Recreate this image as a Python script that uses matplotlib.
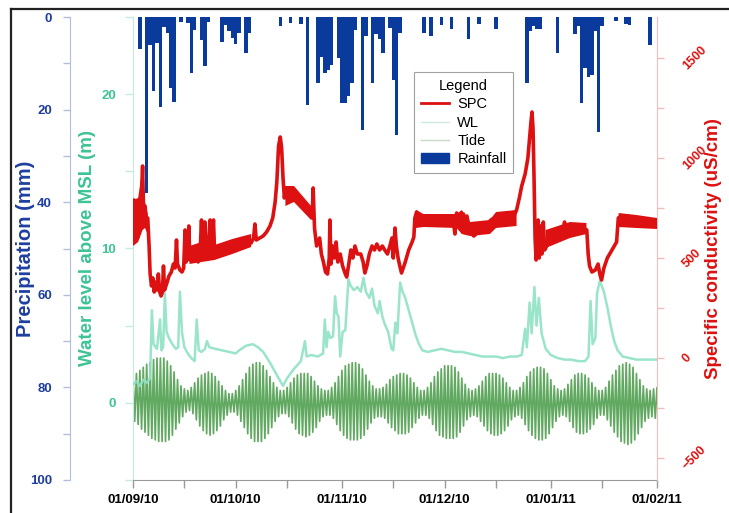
import numpy as np
import matplotlib
matplotlib.use('Agg')
import matplotlib.pyplot as plt
from matplotlib.lines import Line2D
from matplotlib.patches import Patch

# ---------------- data (day 0 = 01/09/2010) ----------------
tick_days = [0, 30, 61, 91, 122, 153]
tick_labels = ["01/09/10", "01/10/10", "01/11/10", "01/12/10", "01/01/11", "01/02/11"]
minor_days = [15, 45, 76, 106, 137]

rain_mm = [0, 0, 7.0, 0, 38, 6.0, 15.9, 5.7, 19.4, 2.1, 3.5, 15.3, 18.3, 0, 1.0, 0, 1.4, 12.2, 2.8, 0,
           5.0, 10.6, 1.0, 0, 0, 0, 5.3, 1.8, 3.0, 4.5, 5.8, 3.5, 0, 7.8, 3.5, 0, 0, 0, 0, 0,
           0, 0, 0, 1.9, 0, 0, 1.2, 0, 0, 1.5, 0, 19, 0, 0, 14.3, 8.6, 12.1, 11.4, 10.4, 0,
           8.9, 18.6, 18.6, 17, 14.3, 2.8, 0, 24.4, 4.1, 0, 14.3, 3.7, 4.8, 7.7, 0, 2.3, 13.6, 25.5, 3.4, 0,
           0, 0, 0, 0, 0, 3.4, 0, 4.1, 0, 0, 1.8, 0, 0, 2.5, 0, 0, 0, 0, 4.8, 0,
           0, 1.5, 0, 0, 0, 0, 2.5, 0, 0, 0, 0, 0, 0, 0, 0, 14.3, 3.0, 2.0, 2.5, 2.5,
           0, 0, 0, 0, 7.7, 0, 0, 0, 0, 3.7, 2.0, 18.6, 11, 12.9, 12.6, 3, 24.8, 2.0, 0, 0,
           0, 0.8, 0, 0, 1.5, 1.8, 0, 0, 0, 0, 0, 6.0, 0, 0]

spc_day = [0.0, 0.3, 0.6, 1.0, 1.3, 1.7, 2.1, 2.5, 2.8, 3.1, 3.5, 3.9, 4.3, 4.7, 5.0, 5.4, 5.8, 6.2, 6.6, 7.0,
           7.4, 7.8, 8.2, 8.6, 8.9, 9.2, 9.8, 10.5, 11.2, 11.8, 12.3, 12.7, 13.0, 13.7, 14.3, 14.8, 15.2, 15.5, 16.0, 16.3,
           16.6, 17.2, 17.8, 18.4, 19.0, 19.6, 20.0, 20.3, 20.7, 21.0, 21.3, 21.9, 22.5, 22.8, 23.5, 23.8, 24.5, 25.5, 26.5, 27.5,
           28.5, 29.5, 30.5, 31.5, 32.5, 33.5, 34.5, 35.2, 35.6, 36.0, 37.0, 38.0, 39.0, 40.0, 40.8, 41.5, 42.0, 42.5, 43.0, 43.4,
           43.8, 44.2, 44.6, 45.5, 46.5, 47.2, 48.0, 49.0, 50.0, 51.0, 51.7, 52.3, 52.6, 53.0, 53.6, 54.5, 55.0, 55.6, 56.2, 56.8,
           57.3, 57.5, 57.8, 58.3, 58.8, 59.3, 59.8, 60.5, 61.2, 62.0, 62.4, 63.0, 63.6, 64.2, 64.8, 65.5, 66.5, 67.2, 67.7, 68.3,
           69.0, 69.8, 70.5, 71.2, 72.0, 72.8, 73.5, 74.3, 75.0, 75.6, 76.0, 76.5, 76.9, 77.4, 77.9, 78.4, 79.5, 80.5, 81.5, 82.0,
           82.3, 82.8, 83.5, 84.5, 85.5, 86.5, 87.5, 88.5, 89.5, 90.5, 91.5, 92.5, 93.5, 94.0, 94.5, 95.5, 96.5, 97.0, 97.5, 98.4,
           99.5, 100.5, 101.5, 102.5, 103.5, 104.5, 105.5, 106.5, 107.5, 108.5, 109.5, 110.5, 111.5, 112.0, 112.8, 113.5, 114.5, 115.3, 115.8, 116.2,
           116.5, 116.8, 117.1, 117.4, 117.7, 118.0, 118.3, 118.6, 119.0, 119.4, 119.8, 120.2, 120.8, 121.5, 122.5, 123.5, 124.5, 125.5, 126.0, 126.5,
           127.5, 128.5, 129.5, 130.5, 131.5, 132.5, 132.9, 133.3, 134.0, 135.0, 135.8, 136.3, 136.8, 137.5, 138.5, 139.5, 140.5, 141.2, 141.7, 142.5,
           143.5, 144.5, 145.5, 146.5, 147.5, 148.5, 149.5, 150.5, 151.5, 152.5, 153.0]
spc_val = [620, 790, 640, 770, 600, 760, 650, 830, 960, 720, 760, 690, 700, 560, 420, 360, 400, 330, 380, 340,
           420, 330, 310, 330, 460, 340, 370, 410, 430, 470, 450, 590, 470, 440, 430, 450, 640, 480, 520, 660,
           490, 540, 500, 560, 480, 530, 690, 500, 550, 680, 510, 540, 690, 530, 690, 540, 520, 540, 535, 550,
           555, 560, 570, 575, 580, 585, 575, 600, 670, 590, 600, 610, 630, 660, 700, 780, 880, 1060, 1105, 1050,
           900, 800, 850, 800, 820, 840, 800, 790, 770, 750, 730, 700, 850, 650, 560, 600, 520, 480, 430, 420,
           500, 690, 470, 560, 500, 580, 480, 520, 460, 420, 405, 470, 540, 500, 560, 520, 520, 480, 425, 460,
           520, 560, 540, 570, 540, 560, 540, 520, 560, 600, 500, 650, 560, 500, 460, 425, 480, 540, 580, 605,
           700, 730, 720, 700, 690, 685, 680, 690, 680, 685, 690, 680, 690, 620, 725, 700, 720, 640, 710, 630,
           610, 625, 645, 660, 670, 690, 700, 705, 710, 700, 710, 690, 720, 740, 800, 860, 920, 1000, 1100, 1180,
           1230, 1150, 900, 600, 490, 560, 690, 500, 660, 520, 680, 540, 560, 590, 580, 600, 610, 630, 680, 620,
           640, 650, 640, 655, 650, 640, 520, 460, 430, 440, 470, 420, 390, 450, 500, 530, 560, 580, 700, 710,
           690, 685, 680, 675, 675, 670, 670, 675, 670, 665, 665]

# SPC noise band (short-period fluctuation envelope); NaN separates segments
spc_band_day = [0.0, 1.5, 2.8, 3.5, 4.3, np.nan,
                16.5, 20.0, 23.8, 29.0, 34.5, np.nan,
                44.5, 47.0, 52.0, np.nan,
                82.6, 84.8, 94.5, 96.0, 98.4, 104.2, 106.0, 112.0, np.nan,
                120.5, 127.6, 132.4, np.nan,
                141.8, 147.0, 153.0]
spc_band_lo = [560, 580, 640, 650, 620, np.nan,
               470, 480, 490, 520, 555, np.nan,
               760, 780, 690, np.nan,
               650, 655, 650, 620, 610, 620, 650, 660, np.nan,
               550, 600, 620, np.nan,
               655, 650, 645]
spc_band_hi = [790, 800, 950, 780, 720, np.nan,
               560, 580, 565, 595, 620, np.nan,
               860, 860, 760, np.nan,
               740, 720, 720, 740, 680, 690, 730, 740, np.nan,
               640, 680, 675, np.nan,
               725, 715, 700]

wl_day = [0, 1, 2, 3, 4, 5, 5.5, 6, 7, 7.9, 8.3, 8.8, 9.3, 9.8, 10.5, 11.5, 12.5, 13.2, 13.7, 14.3,
          15, 16, 17, 18, 18.6, 19.2, 20, 21, 21.6, 22.3, 24, 26, 28, 30, 31, 33, 35, 36.5, 38, 40,
          42, 43.8, 45, 47, 49, 50.2, 50.7, 52, 54, 55.5, 56, 56.5, 57, 57.6, 58.4, 59, 59.5, 60, 60.5, 61.2,
          62, 62.9, 63.5, 64.5, 65.5, 66.5, 67.3, 68, 69, 69.8, 70.5, 71.5, 72, 72.8, 73.5, 74.5, 75.5, 76, 76.6, 77.2,
          78, 78.7, 79.5, 80.5, 81.5, 82.5, 83.5, 84.5, 86, 88, 90, 92, 94, 96, 98, 100, 102, 104, 106, 108,
          110, 112, 113.5, 114.5, 115, 115.8, 116.4, 117.2, 117.8, 118.5, 119.3, 120.5, 122, 124, 126, 128, 130, 132, 133, 133.6,
          134.2, 135, 135.5, 136.3, 137.5, 138.5, 139.5, 140.5, 141.5, 143, 145, 147, 149, 151, 153]
wl_val = [1.2, 1.4, 1.1, 1.5, 1.3, 1.6, 6.0, 3.8, 3.5, 5.4, 3.4, 3.6, 7.1, 4.6, 4.2, 3.8, 3.5, 3.6, 7.2, 4.6,
          3.6, 3.2, 2.9, 2.7, 5.4, 3.4, 3.3, 3.5, 4.0, 3.6, 3.5, 3.4, 3.3, 3.2, 3.4, 3.7, 3.8, 3.6, 3.3, 2.6,
          1.8, 1.1, 1.6, 2.2, 2.7, 4.0, 3.0, 3.1, 3.0, 3.2, 5.4, 3.6, 4.6, 4.2, 4.3, 6.9, 5.8, 5.6, 3.0, 4.6,
          4.7, 8.0, 7.6, 7.3, 7.5, 7.2, 8.1, 7.2, 6.8, 7.4, 6.3, 5.8, 6.6, 5.6, 5.1, 4.6, 3.5, 3.4, 5.2, 4.5,
          7.8, 7.2, 6.8, 6.0, 5.2, 4.4, 3.8, 3.4, 3.3, 3.4, 3.5, 3.4, 3.3, 3.3, 3.2, 3.1, 3.0, 3.0, 3.0, 2.9,
          3.0, 3.0, 3.1, 4.8, 3.6, 6.5, 4.5, 7.5, 5.0, 6.8, 4.5, 3.5, 3.1, 2.9, 2.8, 2.8, 2.7, 2.7, 3.0, 6.6,
          3.8, 4.2, 7.1, 7.9, 7.2, 6.2, 5.0, 4.0, 3.4, 3.0, 2.9, 2.8, 2.8, 2.8, 2.8]

tide_hi = [1.7, 1.9, 2.1, 2.3, 2.5, 2.6, 2.8, 2.9, 2.9, 2.9, 2.7, 2.4, 2.0, 1.5, 1.1, 0.9, 0.8, 1.0, 1.3, 1.6,
           1.8, 1.9, 2.0, 1.9, 1.7, 1.4, 1.1, 0.8, 0.6, 0.6, 0.8, 1.1, 1.5, 1.9, 2.3, 2.5, 2.6, 2.6, 2.4, 2.1,
           1.7, 1.3, 1.0, 0.8, 0.8, 1.0, 1.3, 1.6, 1.8, 1.9, 1.9, 1.9, 1.7, 1.4, 1.1, 0.9, 0.8, 0.8, 1.0, 1.3,
           1.7, 2.1, 2.4, 2.5, 2.6, 2.6, 2.5, 2.2, 1.8, 1.4, 1.1, 0.9, 0.9, 1.0, 1.2, 1.5, 1.7, 1.8, 1.9, 1.9,
           1.8, 1.6, 1.3, 1.0, 0.8, 0.8, 1.0, 1.3, 1.7, 2.0, 2.2, 2.4, 2.4, 2.4, 2.3, 2.0, 1.6, 1.2, 0.9, 0.8,
           0.9, 1.1, 1.4, 1.7, 1.9, 1.9, 1.9, 1.8, 1.6, 1.3, 1.0, 0.8, 0.8, 1.0, 1.3, 1.7, 2.0, 2.2, 2.3, 2.3,
           2.2, 1.9, 1.5, 1.1, 0.9, 0.8, 0.9, 1.2, 1.5, 1.8, 1.9, 1.9, 1.8, 1.6, 1.3, 1.0, 0.8, 0.8, 1.0, 1.4,
           1.8, 2.1, 2.4, 2.5, 2.6, 2.5, 2.3, 1.9, 1.5, 1.1, 0.9, 0.8, 0.9, 1.0]
tide_lo = [-1.2, -1.4, -1.7, -1.9, -2.1, -2.3, -2.4, -2.5, -2.5, -2.5, -2.4, -2.1, -1.7, -1.3, -0.9, -0.6, -0.5, -0.7, -1.1, -1.5,
           -1.8, -2.0, -2.1, -2.0, -1.8, -1.5, -1.1, -0.8, -0.6, -0.6, -0.8, -1.2, -1.6, -2.0, -2.3, -2.5, -2.5, -2.5, -2.3, -2.0,
           -1.6, -1.2, -0.9, -0.7, -0.7, -0.9, -1.3, -1.7, -2.0, -2.1, -2.2, -2.1, -1.9, -1.6, -1.2, -0.9, -0.8, -0.8, -1.0, -1.4,
           -1.8, -2.1, -2.3, -2.4, -2.4, -2.4, -2.3, -2.1, -1.7, -1.3, -1.0, -0.9, -0.9, -1.0, -1.3, -1.6, -1.8, -2.0, -2.0, -2.0,
           -1.9, -1.6, -1.3, -1.0, -0.8, -0.8, -1.0, -1.4, -1.8, -2.1, -2.2, -2.3, -2.3, -2.3, -2.2, -1.9, -1.5, -1.1, -0.9, -0.8,
           -0.9, -1.2, -1.5, -1.8, -2.0, -2.1, -2.1, -2.0, -1.8, -1.5, -1.1, -0.9, -0.8, -1.0, -1.4, -1.8, -2.1, -2.3, -2.4, -2.4,
           -2.3, -2.0, -1.6, -1.2, -0.9, -0.8, -0.9, -1.2, -1.6, -1.9, -2.0, -2.0, -1.9, -1.7, -1.4, -1.0, -0.8, -0.8, -1.1, -1.5,
           -1.9, -2.2, -2.5, -2.6, -2.7, -2.6, -2.4, -2.0, -1.6, -1.2, -1.0, -0.9, -1.0, -1.2]

# ---------------- styling ----------------
plt.rcParams['font.family'] = ['Liberation Sans', 'DejaVu Sans']
C_BLUE = '#0a3a9c'
C_BLUE_TXT = '#1f3f9f'
C_WL_TXT = '#3cc494'
C_RED = '#dd1111'
C_WL = '#8fe2c4'
C_TIDE = '#3a943a'

fig = plt.figure(figsize=(7.29, 5.13), dpi=100)
L, R, B, T = 133/729, 657/729, 1-480/513, 1-17/513
ax = fig.add_axes([L, B, R-L, T-B])
axp = ax.twinx()
axs = ax.twinx()
for a in (ax, axp, axs):
    a.patch.set_visible(False)
    for s in a.spines.values():
        s.set_visible(False)

days = np.arange(len(rain_mm))

# tide: high / low each day
hi = np.array(tide_hi); lo = np.array(tide_lo)
td = np.arange(len(hi))
tx = np.column_stack((td, td + 0.5)).ravel()
ty = np.column_stack((hi, lo)).ravel()
ax.plot(tx, ty, color=C_TIDE, lw=1.25, alpha=0.8, zorder=2)
ax.plot(wl_day, wl_val, color=C_WL, lw=1.8, alpha=0.9, zorder=3)

ax.set_xlim(0, 153)
ax.set_ylim(-5, 25)
ax.set_yticks([0, 10, 20])
ax.set_yticks([-5, 5, 15, 25], minor=True)
ax.spines['left'].set_visible(True)
ax.spines['left'].set_color('#c4ebe0')
ax.spines['bottom'].set_visible(True)
ax.spines['bottom'].set_color('#9a9a9a')
ax.tick_params(axis='y', which='both', direction='out', color='#c4ebe0', length=6, width=1,
               labelcolor=C_WL_TXT, labelsize=9.5, pad=6)
for t in ax.get_yticklabels():
    t.set_fontweight('bold')
ax.set_xticks(tick_days)
ax.set_xticklabels(tick_labels, fontweight='bold', fontsize=9.5)
ax.set_xticks(minor_days, minor=True)
ax.tick_params(axis='x', which='both', direction='out', color='#9a9a9a', length=6, width=1, pad=4)
ax.set_ylabel('Water level above MSL (m)', color=C_WL_TXT, fontsize=13.5, fontweight='bold')
ax.yaxis.label.set_verticalalignment('center')
ax.yaxis.set_label_coords((88-133)/524, 0.5)

# precipitation
axp.bar(days, rain_mm, width=1.0, color=C_BLUE, zorder=3, linewidth=0)
axp.set_ylim(100, 0)
axp.yaxis.set_ticks_position('left')
axp.yaxis.set_label_position('left')
axp.spines['left'].set_visible(True)
axp.spines['left'].set_position(('axes', (70-133)/524))
axp.spines['left'].set_color('#b4bddb')
axp.set_yticks([0, 20, 40, 60, 80, 100])
axp.set_yticks([10, 30, 50, 70, 90], minor=True)
axp.tick_params(axis='y', which='both', direction='out', color='#b4bddb', length=5, width=1,
                labelcolor=C_BLUE_TXT, labelsize=9.5, pad=8)
for t in axp.get_yticklabels():
    t.set_fontweight('bold')
axp.set_ylabel('Precipitation (mm)', color=C_BLUE_TXT, fontsize=14.5, fontweight='bold')
axp.yaxis.label.set_verticalalignment('center')
axp.yaxis.set_label_coords((26-133)/524, 0.5)

# SPC
axs.fill_between(spc_band_day, spc_band_lo, spc_band_hi, color=C_RED, linewidth=0, zorder=4)
axs.plot(spc_day, spc_val, color=C_RED, lw=2.6, zorder=4, solid_joinstyle='round')
axs.set_ylim(-610, 1705)
axs.spines['right'].set_visible(True)
axs.spines['right'].set_color('#f2bcbc')
axs.set_yticks([-500, 0, 500, 1000, 1500])
axs.set_yticks([-250, 250, 750, 1250], minor=True)
axs.tick_params(axis='y', which='both', direction='out', color='#f2bcbc', length=5, width=1,
                labelcolor=C_RED, labelsize=9, pad=12)
for t in axs.get_yticklabels():
    t.set_fontweight('bold')
    t.set_rotation(45)
    t.set_verticalalignment('center')
axs.set_ylabel('Specific conductivity (uS/cm)', color=C_RED, fontsize=13.5, fontweight='bold')
axs.yaxis.label.set_verticalalignment('center')
axs.yaxis.set_label_coords((713-133)/524, 0.5)

handles = [Line2D([], [], color=C_RED, lw=2),
           Line2D([], [], color='#cfe8e0', lw=1),
           Line2D([], [], color='#c8d8c8', lw=1),
           Patch(facecolor=C_BLUE, edgecolor=C_BLUE)]
leg = axs.legend(handles, ['SPC', 'WL', 'Tide', 'Rainfall'], title='Legend', loc='upper left',
                 bbox_to_anchor=((407-133)/524, (480-65)/463), fancybox=False, framealpha=1,
                 edgecolor='#a0a0a0', fontsize=10.5, title_fontsize=10.5, handlelength=1.9,
                 labelspacing=0.3, borderpad=0.45, handletextpad=0.6)
leg.get_frame().set_linewidth(0.8)
leg.set_zorder(10)

# outer frame (top and left edges visible)
fig.add_artist(Line2D([11/729, 1.0], [1-9/513, 1-9/513], color='#222222', lw=1.6, transform=fig.transFigure))
fig.add_artist(Line2D([11/729, 11/729], [0, 1-9/513], color='#222222', lw=1.6, transform=fig.transFigure))

fig.savefig('out.png', dpi=100)
